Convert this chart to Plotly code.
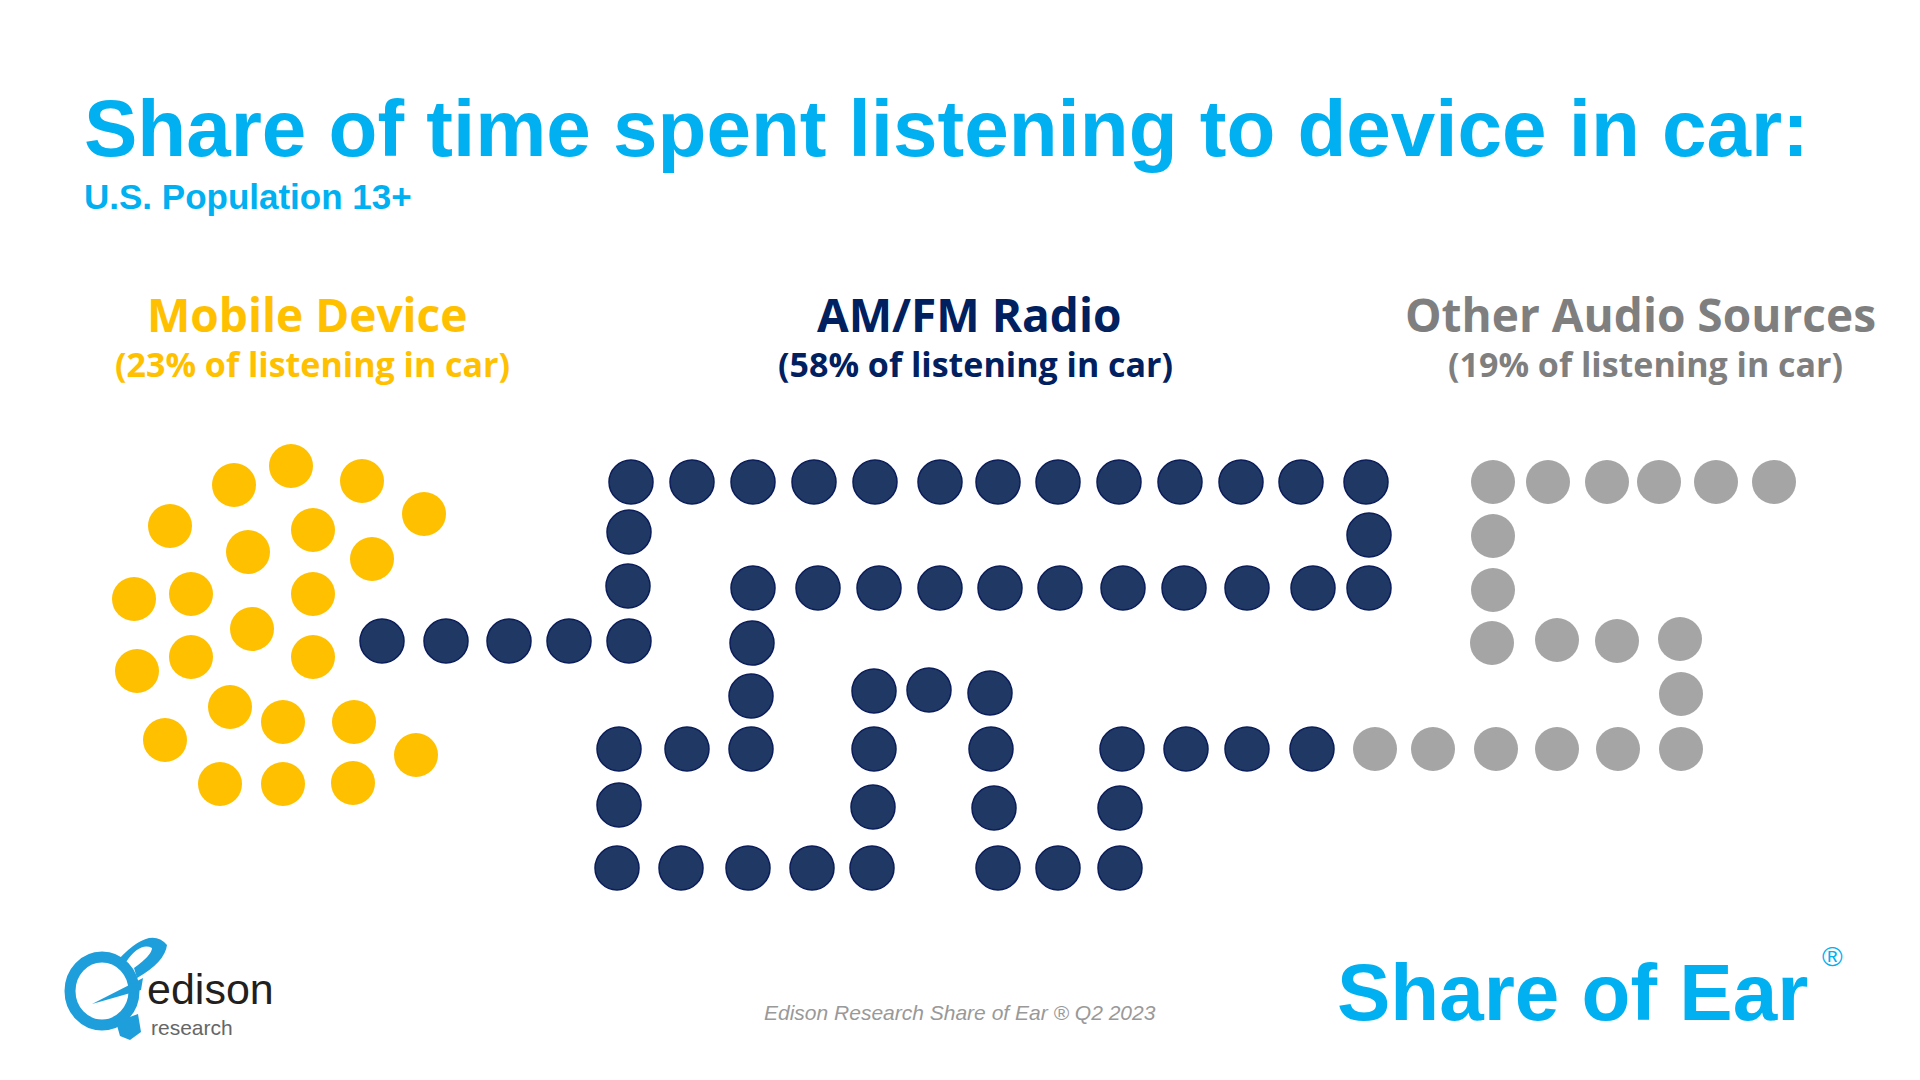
import plotly.graph_objects as go

# share of in-car listening time (each dot = 1%)
categories = ['Mobile Device', 'AM/FM Radio', 'Other Audio Sources']
shares = [23, 58, 19]

# dot layout (screen pixels)
mobile_x = [291, 234, 362, 170, 424, 313, 248, 372, 134, 191, 313, 252,
            137, 191, 313, 230, 283, 354, 165, 416, 220, 283, 353]
mobile_y = [466, 485, 481, 526, 514, 530, 552, 559, 599, 594, 594, 629,
            671, 657, 657, 707, 722, 722, 740, 755, 784, 784, 783]

radio_x = [631, 692, 753, 814, 875, 940, 998, 1058, 1119, 1180, 1241, 1301, 1366,
           629, 1369,
           628, 753, 818, 879, 940, 1000, 1060, 1123, 1184, 1247, 1313, 1369,
           382, 446, 509, 569, 629, 752,
           751, 874, 929, 990,
           619, 687, 751, 874, 991, 1122, 1186, 1247, 1312,
           619, 873, 994, 1120,
           617, 681, 748, 812, 872, 998, 1058, 1120]
radio_y = [482] * 13 + [532, 535] + [586] + [588] * 11 + \
          [641, 641, 641, 641, 641, 643] + [696, 691, 690, 693] + \
          [749] * 9 + [805, 807, 808, 808] + [868] * 8

other_x = [1493, 1548, 1607, 1659, 1716, 1774,
           1493, 1493,
           1492, 1557, 1617, 1680,
           1681,
           1375, 1433, 1496, 1557, 1618, 1681]
other_y = [482] * 6 + [536, 590] + [643, 640, 641, 639] + [694] + [749] * 6

colors = ['#FFC000', '#1F3864', '#A5A5A5']
label_colors = ['#FFC000', '#002060', '#7F7F7F']

fig = go.Figure()
groups = [(mobile_x, mobile_y), (radio_x, radio_y), (other_x, other_y)]
for i, (gx, gy) in enumerate(groups):
    assert len(gx) == len(gy) == shares[i]
    fig.add_trace(go.Scatter(
        x=gx, y=gy, mode='markers', name=categories[i],
        marker=dict(size=44, color=colors[i],
                    line=dict(width=1.5 if i == 1 else 0, color='#0B1D5A')),
        hoverinfo='skip'))

# category headers
head_x = [307, 969, 1640]
sub_x = [312, 975, 1645]
for i, cat in enumerate(categories):
    fig.add_annotation(x=head_x[i], y=314, text='<b>%s</b>' % cat, showarrow=False,
                       font=dict(family='Open Sans', size=46, color=label_colors[i]))
    fig.add_annotation(x=sub_x[i], y=364,
                       text='<b>(%d%% of listening in car)</b>' % shares[i], showarrow=False,
                       font=dict(family='Open Sans', size=34, color=label_colors[i]))

# title block
fig.add_annotation(x=82, y=128, xanchor='left', showarrow=False,
                   text='<b>Share of time spent listening to device in car:</b>',
                   font=dict(family='Liberation Sans', size=80, color='#00B0F0'))
fig.add_annotation(x=82, y=196, xanchor='left', showarrow=False,
                   text='<b>U.S. Population 13+</b>',
                   font=dict(family='Liberation Sans', size=35, color='#00B0F0'))

# footer
fig.add_annotation(x=960, y=1012, showarrow=False,
                   text='<i>Edison Research Share of Ear ® Q2 2023</i>',
                   font=dict(family='Liberation Sans', size=21, color='#999999'))
fig.add_annotation(x=1335, y=992, xanchor='left', showarrow=False,
                   text='<b>Share of Ear</b>',
                   font=dict(family='Liberation Sans', size=80, color='#00B0F0'))
fig.add_annotation(x=1832, y=956, showarrow=False, text='®',
                   font=dict(family='Liberation Sans', size=28, color='#00B0F0'))

# edison research logo (rough)
blue = '#1E9FDB'
fig.add_shape(type='circle', x0=70, x1=134, y0=957, y1=1025,
              line=dict(color=blue, width=11))
fig.add_shape(type='path', path='M 118,960 Q 150,925 167,945 Q 165,962 137,978 L 134,968 Q 152,955 152,948 Q 140,942 126,962 Z',
              fillcolor=blue, line=dict(width=0))
fig.add_shape(type='path', path='M 92,1004 L 143,978 L 141,990 Z',
              fillcolor=blue, line=dict(width=0))
fig.add_shape(type='path', path='M 116,1022 L 138,1014 L 141,1032 L 130,1040 L 120,1036 Z',
              fillcolor=blue, line=dict(width=0))
fig.add_annotation(x=146, y=989, xanchor='left', showarrow=False, text='edison',
                   borderpad=0, font=dict(family='Liberation Sans', size=43, color='#231F20'))
fig.add_annotation(x=150, y=1027, xanchor='left', showarrow=False, text='research',
                   borderpad=0, font=dict(family='Liberation Sans', size=21, color='#666666'))

fig.update_xaxes(range=[8, 1912], visible=False, fixedrange=True)
fig.update_yaxes(range=[1072, 8], visible=False, fixedrange=True)
fig.update_layout(width=1904, height=1064, margin=dict(l=0, r=0, t=0, b=0),
                  paper_bgcolor='white', plot_bgcolor='white', showlegend=False)

fig.write_html("out.html")
